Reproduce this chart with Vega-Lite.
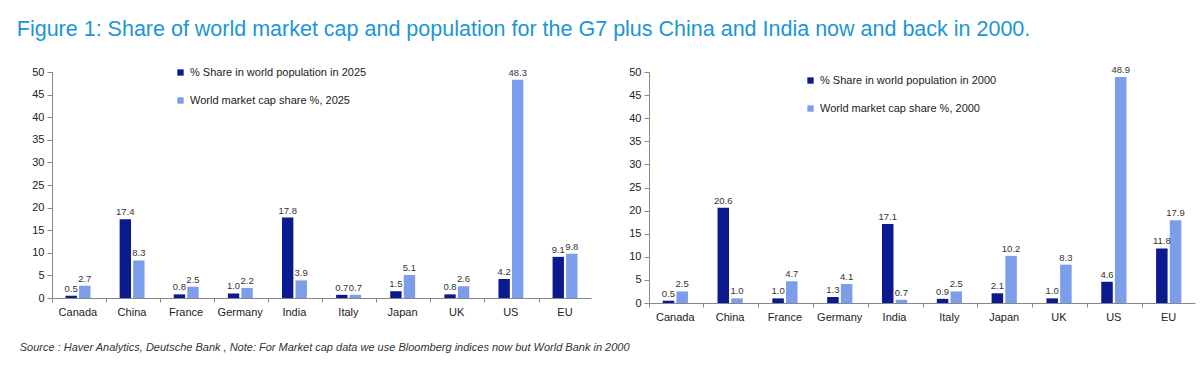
{
  "$schema": "https://vega.github.io/schema/vega-lite/v6.json",
  "background": "white",
  "padding": {"left": 16, "top": 18, "right": 10, "bottom": 10},
  "title": {
    "text": "Figure 1: Share of world market cap and population for the G7 plus China and India now and back in 2000.",
    "anchor": "start",
    "font": "Liberation Sans",
    "fontSize": 21.5,
    "fontWeight": "normal",
    "color": "#1A96D6",
    "offset": 25,
    "dx": -3
  },
  "config": {
    "view": {"stroke": null},
    "font": "Liberation Sans",
    "axis": {
      "grid": false,
      "domainColor": "#888888",
      "tickColor": "#888888",
      "labelColor": "#222222",
      "labelFont": "Liberation Sans",
      "labelFontSize": 11,
      "title": null
    },
    "legend": {
      "labelFont": "Liberation Sans",
      "labelFontSize": 11,
      "labelColor": "#222222",
      "labelLimit": 400,
      "symbolType": "square",
      "symbolSize": 40,
      "symbolStrokeWidth": 0,
      "rowPadding": 16,
      "title": null
    }
  },
  "vconcat": [
    {
      "title": {
        "text": "Source : Haver Analytics, Deutsche Bank , Note: For Market cap data we use Bloomberg indices now but World Bank in 2000",
        "orient": "bottom",
        "anchor": "start",
        "font": "Liberation Sans",
        "fontSize": 11,
        "fontStyle": "italic",
        "fontWeight": "normal",
        "color": "#333333",
        "offset": 20,
        "dx": -12
      },
      "spacing": 37,
      "resolve": {"scale": {"color": "independent"}},
      "hconcat": [
        {
          "width": 539,
          "height": 226,
          "data": {
            "values": [
              {"country": "Canada", "series": "% Share in world population in 2025", "value": 0.5},
              {"country": "Canada", "series": "World market cap share %, 2025", "value": 2.7},
              {"country": "China", "series": "% Share in world population in 2025", "value": 17.4},
              {"country": "China", "series": "World market cap share %, 2025", "value": 8.3},
              {"country": "France", "series": "% Share in world population in 2025", "value": 0.8},
              {"country": "France", "series": "World market cap share %, 2025", "value": 2.5},
              {"country": "Germany", "series": "% Share in world population in 2025", "value": 1.0},
              {"country": "Germany", "series": "World market cap share %, 2025", "value": 2.2},
              {"country": "India", "series": "% Share in world population in 2025", "value": 17.8},
              {"country": "India", "series": "World market cap share %, 2025", "value": 3.9},
              {"country": "Italy", "series": "% Share in world population in 2025", "value": 0.7},
              {"country": "Italy", "series": "World market cap share %, 2025", "value": 0.7},
              {"country": "Japan", "series": "% Share in world population in 2025", "value": 1.5},
              {"country": "Japan", "series": "World market cap share %, 2025", "value": 5.1},
              {"country": "UK", "series": "% Share in world population in 2025", "value": 0.8},
              {"country": "UK", "series": "World market cap share %, 2025", "value": 2.6},
              {"country": "US", "series": "% Share in world population in 2025", "value": 4.2},
              {"country": "US", "series": "World market cap share %, 2025", "value": 48.3},
              {"country": "EU", "series": "% Share in world population in 2025", "value": 9.1},
              {"country": "EU", "series": "World market cap share %, 2025", "value": 9.8}
            ]
          },
          "transform": [
            {"calculate": "datum.country + (indexof(datum.series, 'population') >= 0 ? '|pop' : '|cap')", "as": "slot"}
          ],
          "encoding": {
            "x": {
              "field": "slot", "type": "nominal",
              "scale": {
                "domain": ["Canada|L", "Canada|pop", "Canada|cap", "Canada|R", "China|L", "China|pop", "China|cap", "China|R", "France|L", "France|pop", "France|cap", "France|R", "Germany|L", "Germany|pop", "Germany|cap", "Germany|R", "India|L", "India|pop", "India|cap", "India|R", "Italy|L", "Italy|pop", "Italy|cap", "Italy|R", "Japan|L", "Japan|pop", "Japan|cap", "Japan|R", "UK|L", "UK|pop", "UK|cap", "UK|R", "US|L", "US|pop", "US|cap", "US|R", "EU|L", "EU|pop", "EU|cap", "EU|R"],
                "paddingInner": 0.16, "paddingOuter": 0
              },
              "axis": {
                "values": ["Canada|L", "China|L", "France|L", "Germany|L", "India|L", "Italy|L", "Japan|L", "UK|L", "US|L", "EU|L"],
                "labelExpr": "split(datum.value, '|')[0]",
                "labelAngle": 0, "bandPosition": 0, "labelOffset": 20.2, "tickSize": 4, "labelPadding": 4
              }
            },
            "y": {
              "field": "value", "type": "quantitative",
              "scale": {"domain": [0, 50], "nice": false},
              "axis": {"values": [0, 5, 10, 15, 20, 25, 30, 35, 40, 45, 50], "tickSize": 5, "labelPadding": 3}
            }
          },
          "layer": [
            {
              "mark": {"type": "bar", "width": {"band": 1}},
              "encoding": {
                "color": {
                  "field": "series", "type": "nominal", "sort": null,
                  "scale": {"domain": ["% Share in world population in 2025", "World market cap share %, 2025"], "range": ["#0B1A8E", "#7C9EEA"]},
                  "legend": {"orient": "none", "legendX": 123, "legendY": -5, "direction": "vertical"}
                }
              }
            },
            {
              "mark": {"type": "text", "dy": -7, "fontSize": 9.5, "color": "#333333", "font": "Liberation Sans"},
              "encoding": {"text": {"field": "value", "type": "quantitative", "format": ".1f"}}
            }
          ]
        },
        {
          "width": 546,
          "height": 231,
          "data": {
            "values": [
              {"country": "Canada", "series": "% Share in world population in 2000", "value": 0.5},
              {"country": "Canada", "series": "World market cap share %, 2000", "value": 2.5},
              {"country": "China", "series": "% Share in world population in 2000", "value": 20.6},
              {"country": "China", "series": "World market cap share %, 2000", "value": 1.0},
              {"country": "France", "series": "% Share in world population in 2000", "value": 1.0},
              {"country": "France", "series": "World market cap share %, 2000", "value": 4.7},
              {"country": "Germany", "series": "% Share in world population in 2000", "value": 1.3},
              {"country": "Germany", "series": "World market cap share %, 2000", "value": 4.1},
              {"country": "India", "series": "% Share in world population in 2000", "value": 17.1},
              {"country": "India", "series": "World market cap share %, 2000", "value": 0.7},
              {"country": "Italy", "series": "% Share in world population in 2000", "value": 0.9},
              {"country": "Italy", "series": "World market cap share %, 2000", "value": 2.5},
              {"country": "Japan", "series": "% Share in world population in 2000", "value": 2.1},
              {"country": "Japan", "series": "World market cap share %, 2000", "value": 10.2},
              {"country": "UK", "series": "% Share in world population in 2000", "value": 1.0},
              {"country": "UK", "series": "World market cap share %, 2000", "value": 8.3},
              {"country": "US", "series": "% Share in world population in 2000", "value": 4.6},
              {"country": "US", "series": "World market cap share %, 2000", "value": 48.9},
              {"country": "EU", "series": "% Share in world population in 2000", "value": 11.8},
              {"country": "EU", "series": "World market cap share %, 2000", "value": 17.9}
            ]
          },
          "transform": [
            {"calculate": "datum.country + (indexof(datum.series, 'population') >= 0 ? '|pop' : '|cap')", "as": "slot"}
          ],
          "encoding": {
            "x": {
              "field": "slot", "type": "nominal",
              "scale": {
                "domain": ["Canada|L", "Canada|pop", "Canada|cap", "Canada|R", "China|L", "China|pop", "China|cap", "China|R", "France|L", "France|pop", "France|cap", "France|R", "Germany|L", "Germany|pop", "Germany|cap", "Germany|R", "India|L", "India|pop", "India|cap", "India|R", "Italy|L", "Italy|pop", "Italy|cap", "Italy|R", "Japan|L", "Japan|pop", "Japan|cap", "Japan|R", "UK|L", "UK|pop", "UK|cap", "UK|R", "US|L", "US|pop", "US|cap", "US|R", "EU|L", "EU|pop", "EU|cap", "EU|R"],
                "paddingInner": 0.16, "paddingOuter": 0
              },
              "axis": {
                "values": ["Canada|L", "China|L", "France|L", "Germany|L", "India|L", "Italy|L", "Japan|L", "UK|L", "US|L", "EU|L"],
                "labelExpr": "split(datum.value, '|')[0]",
                "labelAngle": 0, "bandPosition": 0, "labelOffset": 20.5, "tickSize": 4, "labelPadding": 4
              }
            },
            "y": {
              "field": "value", "type": "quantitative",
              "scale": {"domain": [0, 50], "nice": false},
              "axis": {"values": [0, 5, 10, 15, 20, 25, 30, 35, 40, 45, 50], "tickSize": 5, "labelPadding": 3}
            }
          },
          "layer": [
            {
              "mark": {"type": "bar", "width": {"band": 1}},
              "encoding": {
                "color": {
                  "field": "series", "type": "nominal", "sort": null,
                  "scale": {"domain": ["% Share in world population in 2000", "World market cap share %, 2000"], "range": ["#0B1A8E", "#7C9EEA"]},
                  "legend": {"orient": "none", "legendX": 156, "legendY": 3, "direction": "vertical"}
                }
              }
            },
            {
              "mark": {"type": "text", "dy": -7, "fontSize": 9.5, "color": "#333333", "font": "Liberation Sans"},
              "encoding": {"text": {"field": "value", "type": "quantitative", "format": ".1f"}}
            }
          ]
        }
      ]
    }
  ]
}
